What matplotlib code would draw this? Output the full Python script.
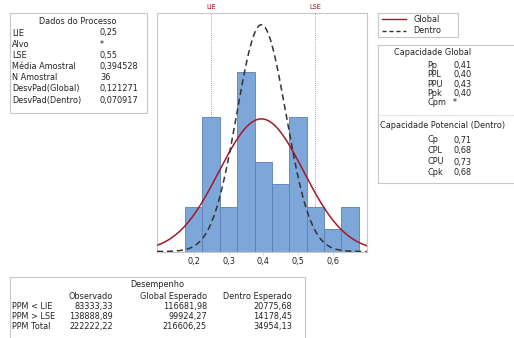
import numpy as np
import matplotlib
matplotlib.use("Agg")
import matplotlib.pyplot as plt
from matplotlib.patches import Rectangle
from matplotlib.lines import Line2D

# histogram (bin midpoints, counts)
bin_mids = [0.20, 0.25, 0.30, 0.35, 0.40, 0.45, 0.50, 0.55, 0.60, 0.65]
counts = [2, 6, 2, 8, 4, 3, 6, 2, 1, 2]
bin_width = 0.05

lie = 0.25
lse = 0.55
media = 0.394528
n_amostral = 36
sd_global = 0.121271
sd_dentro = 0.070917

dados_labels = ["LIE", "Alvo", "LSE", "Média Amostral", "N Amostral",
                "DesvPad(Global)", "DesvPad(Dentro)"]
dados_values = ["0,25", "*", "0,55", "0,394528", "36", "0,121271", "0,070917"]

global_labels = ["Pp", "PPL", "PPU", "Ppk", "Cpm"]
global_values = ["0,41", "0,40", "0,43", "0,40", "*"]
dentro_labels = ["Cp", "CPL", "CPU", "Cpk"]
dentro_values = ["0,71", "0,68", "0,73", "0,68"]

desemp_rows = ["PPM < LIE", "PPM > LSE", "PPM Total"]
desemp_cols = ["Observado", "Global Esperado", "Dentro Esperado"]
ppm_observado = ["83333,33", "138888,89", "222222,22"]
ppm_global = ["116681,98", "99924,27", "216606,25"]
ppm_dentro = ["20775,68", "14178,45", "34954,13"]

tick_vals = [0.2, 0.3, 0.4, 0.5, 0.6]
tick_labels = ["0,2", "0,3", "0,4", "0,5", "0,6"]

W, H = 514, 338
FS = 5.9
TXT = "#222222"
BOX = "#c8c8c8"


def px(x, y):
    return x / W, 1 - y / H


def box(fig, x0, y0, x1, y1):
    fig.patches.append(Rectangle(px(x0, y1), (x1 - x0) / W, (y1 - y0) / H,
                                 transform=fig.transFigure, fill=False,
                                 edgecolor=BOX, linewidth=0.8))


def txt(fig, x, y, s, ha="left", **kw):
    fig.text(*px(x, y), s, ha=ha, va="center", fontsize=FS, color=TXT, **kw)


def normal(x, mu, sd):
    return np.exp(-0.5 * ((x - mu) / sd) ** 2) / (sd * np.sqrt(2 * np.pi))


fig = plt.figure(figsize=(W / 100, H / 100), dpi=100)

ax = fig.add_axes([157 / W, 1 - 251.5 / H, (366.7 - 157) / W, (251.5 - 13) / H])
ax.bar(bin_mids, counts, width=bin_width, color="#7DA7D9",
       edgecolor="#5a7fb8", linewidth=0.6, zorder=2)

xs = np.linspace(0.094, 0.698, 300)
scale = n_amostral * bin_width
ax.plot(xs, normal(xs, media, sd_global) * scale, color="#a3192b", lw=1.1, zorder=3)
ax.plot(xs, normal(xs, media, sd_dentro) * scale, color="#333333", lw=1.1,
        ls=(0, (4, 2.5)), zorder=3)

for v, lab in [(lie, "LIE"), (lse, "LSE")]:
    ax.axvline(v, color="#d06070", lw=0.6, ls=(0, (1, 1.5)), zorder=1)
    ax.text(v, 1.012, lab, transform=ax.get_xaxis_transform(), ha="center",
            va="bottom", fontsize=4.8, color="#a3192b")

ax.set_xlim(0.094, 0.698)
ax.set_ylim(0, 10.65)
ax.set_xticks(tick_vals)
ax.set_xticklabels(tick_labels, fontsize=FS, color=TXT)
ax.tick_params(axis="x", length=2, width=0.5, color=BOX, pad=2)
ax.set_yticks([])
for s in ax.spines.values():
    s.set_color(BOX)
    s.set_linewidth(0.8)

# Dados do Processo
box(fig, 10, 12.7, 146.7, 113)
txt(fig, 78, 21.7, "Dados do Processo", ha="center")
for i, (lab, val) in enumerate(zip(dados_labels, dados_values)):
    y = 33 + i * 11.2
    txt(fig, 12, y, lab)
    txt(fig, 100, y, val)

# legend box
box(fig, 378, 12.7, 458, 37)
fig.lines.append(Line2D([382 / W, 406 / W], [px(0, 19)[1]] * 2, transform=fig.transFigure,
                        color="#a3192b", lw=1.0))
fig.lines.append(Line2D([382 / W, 406 / W], [px(0, 30.5)[1]] * 2, transform=fig.transFigure,
                        color="#333333", lw=1.0, ls=(0, (3, 2))))
txt(fig, 413, 19, "Global")
txt(fig, 413, 30.5, "Dentro")

# capability box
box(fig, 378, 45, 530, 183)
fig.lines.append(Line2D([378 / W, 1], [px(0, 115)[1]] * 2, transform=fig.transFigure,
                        color=BOX, lw=0.6, ls=(0, (1, 1))))
txt(fig, 433, 52.7, "Capacidade Global", ha="center")
for i, (lab, val) in enumerate(zip(global_labels, global_values)):
    y = 65.5 + i * 9.3
    txt(fig, 427, y, lab)
    txt(fig, 453, y, val)
txt(fig, 380, 126, "Capacidade Potencial (Dentro)")
for i, (lab, val) in enumerate(zip(dentro_labels, dentro_values)):
    y = 140 + i * 11
    txt(fig, 427, y, lab)
    txt(fig, 453, y, val)

# Desempenho
box(fig, 10, 276.7, 305, 345)
txt(fig, 157, 284.3, "Desempenho", ha="center")
col_right = [113, 207, 292]
for c, lab in zip(col_right, desemp_cols):
    txt(fig, c, 296.5, lab, ha="right")
for i, lab in enumerate(desemp_rows):
    y = 306.5 + i * 9.8
    txt(fig, 12, y, lab)
    for c, col in zip(col_right, [ppm_observado, ppm_global, ppm_dentro]):
        txt(fig, c, y, col[i], ha="right")

fig.savefig("out.png", dpi=100)
